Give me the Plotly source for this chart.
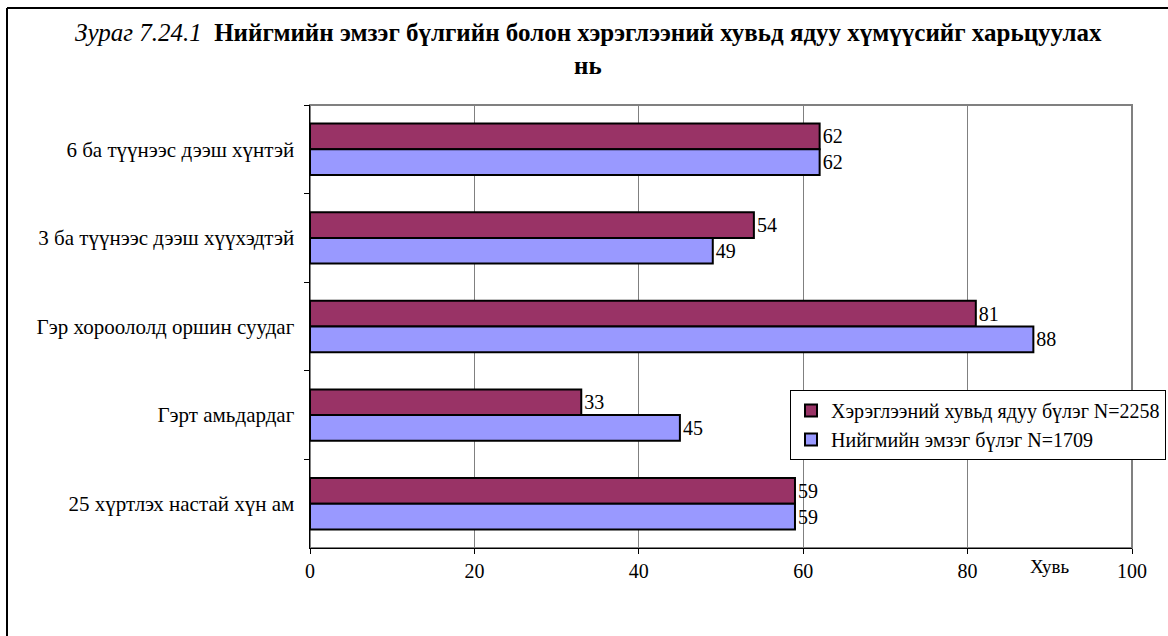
import plotly.graph_objects as go

categories = [
    "6 ба түүнээс дээш хүнтэй",
    "3 ба түүнээс дээш хүүхэдтэй",
    "Гэр хороололд оршин суудаг",
    "Гэрт амьдардаг",
    "25 хүртлэх настай хүн ам",
]
poor_values = [62, 54, 81, 33, 59]
vuln_values = [62, 49, 88, 45, 59]
series_names = ["Хэрэглээний хувьд ядуу бүлэг N=2258", "Нийгмийн эмзэг бүлэг N=1709"]
x_ticks = [0, 20, 40, 60, 80, 100]

FONT = "'Liberation Serif', 'Times New Roman', Times, serif"
W, H = 1168, 636
L, R, T, B = 310, 36, 105, 88
pw, ph = W - L - R, H - T - B

def px_x(p):
    return (p - L) / pw

def px_y(p):
    return (H - B - p) / ph

fig = go.Figure()
fig.add_trace(go.Bar(
    y=categories, x=poor_values, orientation="h", name=series_names[0],
    marker=dict(color="#993366", line=dict(color="black", width=2)),
    text=[str(v) for v in poor_values], textposition="outside",
    textfont=dict(family=FONT, size=20, color="black"), cliponaxis=False,
))
fig.add_trace(go.Bar(
    y=categories, x=vuln_values, orientation="h", name=series_names[1],
    marker=dict(color="#9999FF", line=dict(color="black", width=2)),
    text=[str(v) for v in vuln_values], textposition="outside",
    textfont=dict(family=FONT, size=20, color="black"), cliponaxis=False,
))

fig.update_layout(
    width=W, height=H,
    margin=dict(l=L, r=R, t=T, b=B, autoexpand=False),
    paper_bgcolor="white", plot_bgcolor="white",
    barmode="group", bargap=0.42, bargroupgap=0,
    font=dict(family=FONT, size=20, color="black"),
    showlegend=True,
    legend=dict(
        x=px_x(790), y=px_y(390), xanchor="left", yanchor="top",
        bgcolor="white", bordercolor="black", borderwidth=1,
        font=dict(family=FONT, size=20, color="black"),
        tracegroupgap=0, itemwidth=30,
    ),
    xaxis=dict(
        range=[0, 100], tickvals=x_ticks, ticktext=[str(v) for v in x_ticks],
        showgrid=True, gridcolor="#808080", gridwidth=1,
        showline=True, linecolor="black", linewidth=1,
        ticks="outside", ticklen=5, tickcolor="black",
        zeroline=False, tickfont=dict(family=FONT, size=20),
    ),
    yaxis=dict(
        autorange="reversed", showline=True, linecolor="black", linewidth=1,
        ticks="outside", ticklen=5, tickcolor="black", tickson="boundaries",
        showgrid=False, tickfont=dict(family=FONT, size=21), ticksuffix="  ",
    ),
    shapes=[
        dict(type="rect", xref="paper", yref="paper", x0=0, x1=1, y0=0, y1=1,
             line=dict(color="#808080", width=2), layer="below"),
        dict(type="line", xref="paper", yref="paper", x0=px_x(7), x1=px_x(7),
             y0=px_y(640), y1=px_y(8), line=dict(color="black", width=2)),
        dict(type="line", xref="paper", yref="paper", x0=px_x(7), x1=px_x(1170),
             y0=px_y(8), y1=px_y(8), line=dict(color="black", width=2)),
    ],
    annotations=[
        dict(xref="paper", yref="paper", x=px_x(588), y=px_y(32),
             xanchor="center", yanchor="middle", showarrow=False,
             text="<i>Зураг 7.24.1</i>  <b>Нийгмийн эмзэг бүлгийн болон хэрэглээний хувьд ядуу хүмүүсийг харьцуулах</b>",
             font=dict(family=FONT, size=25, color="black")),
        dict(xref="paper", yref="paper", x=px_x(588), y=px_y(65),
             xanchor="center", yanchor="middle", showarrow=False,
             text="<b>нь</b>", font=dict(family=FONT, size=25, color="black")),
        dict(xref="paper", yref="paper", x=px_x(1050), y=px_y(566),
             xanchor="center", yanchor="middle", showarrow=False,
             text="Хувь", font=dict(family=FONT, size=19, color="black")),
    ],
)

fig.write_html("out.html", post_script="document.body.style.margin='0';",
               config={"displayModeBar": False})
